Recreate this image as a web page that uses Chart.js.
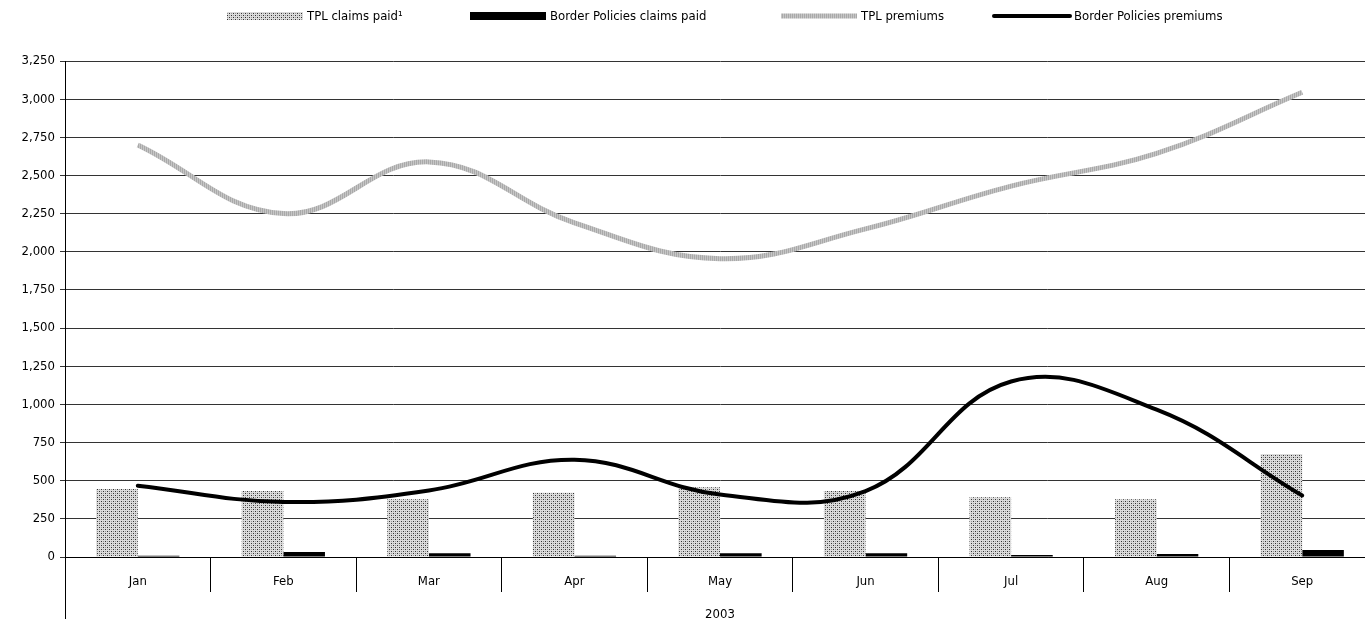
<!DOCTYPE html>
<html>
<head>
<meta charset="utf-8">
<script src="https://cdn.jsdelivr.net/npm/chart.js@4/dist/chart.umd.min.js"></script>
<style>
  html, body { margin: 0; padding: 0; overflow: hidden; background: #fff; }
  #wrap { position: absolute; left: 0; top: 0; width: 1380px; height: 619px; }
</style>
</head>
<body>
<div id="wrap"><canvas id="c" width="1380" height="619"></canvas></div>
<script>
// Monthly figures, 2003
const months = ['Jan', 'Feb', 'Mar', 'Apr', 'May', 'Jun', 'Jul', 'Aug', 'Sep'];
const yearLabels = ['2003'];
const tplClaimsPaid = [445, 432, 378, 421, 457, 432, 391, 378, 675];
const borderClaimsPaid = [8, 33, 24, 8, 24, 24, 13, 20, 46];
const tplPremiums = [2700, 2250, 2589, 2190, 1955, 2150, 2430, 2645, 3045];
const borderPremiums = [467, 361, 436, 637, 410, 432, 1150, 965, 403];
const seriesNames = ['TPL claims paid\u00b9', 'Border Policies claims paid', 'TPL premiums', 'Border Policies premiums'];
const yMax = 3250;
const yStep = 250;

const FONT = { family: '"DejaVu Sans Condensed", "DejaVu Sans", sans-serif', size: 13 };

// Dotted fill used for the TPL claims bars
function makeDotPattern() {
  const t = document.createElement('canvas');
  t.width = 4; t.height = 4;
  const g = t.getContext('2d');
  g.fillStyle = '#dcdcdc'; g.fillRect(0, 0, 4, 4);
  g.fillStyle = '#333';
  g.fillRect(1, 1, 1, 1);
  g.fillRect(3, 3, 1, 1);
  g.fillStyle = '#959595';
  g.fillRect(3, 1, 1, 1);
  g.fillRect(1, 3, 1, 1);
  return g.createPattern(t, 'repeat');
}

// Fine vertical hatching used for the TPL premiums line
function makeStripePattern() {
  const t = document.createElement('canvas');
  t.width = 2; t.height = 2;
  const g = t.getContext('2d');
  g.fillStyle = '#a9a9a9'; g.fillRect(0, 0, 1, 2);
  g.fillStyle = '#c6c6c6'; g.fillRect(1, 0, 1, 2);
  return g.createPattern(t, 'repeat');
}

const dotPattern = makeDotPattern();
const stripePattern = makeStripePattern();

// Legend row across the top, drawn from each dataset's own style
const legendLayout = { y: 16, swatchW: 76, gap: 4, x: [227, 470, 781, 994] };
const topLegend = {
  id: 'topLegend',
  afterDraw(chart) {
    const ctx = chart.ctx;
    chart.data.datasets.forEach((ds, i) => {
      const x = legendLayout.x[i];
      const y = legendLayout.y;
      const w = legendLayout.swatchW;
      ctx.save();
      if (ds.type === 'line') {
        ctx.strokeStyle = ds.borderColor;
        ctx.lineWidth = ds.borderWidth;
        ctx.lineCap = ds.borderCapStyle || 'butt';
        ctx.beginPath();
        ctx.moveTo(x, y);
        ctx.lineTo(x + w, y);
        ctx.stroke();
      } else {
        ctx.fillStyle = ds.backgroundColor;
        ctx.fillRect(x, y - 4, w, 8);
      }
      ctx.fillStyle = '#000';
      ctx.font = FONT.size + 'px ' + FONT.family;
      ctx.textBaseline = 'middle';
      ctx.textAlign = 'left';
      ctx.fillText(ds.label, x + w + legendLayout.gap, y + 1);
      ctx.restore();
    });
  }
};

new Chart(document.getElementById('c'), {
  data: {
    labels: months,
    datasets: [
      {
        type: 'bar', label: seriesNames[0], data: tplClaimsPaid,
        backgroundColor: dotPattern, borderWidth: 0,
        categoryPercentage: 0.572, barPercentage: 1.0, order: 2
      },
      {
        type: 'bar', label: seriesNames[1], data: borderClaimsPaid,
        backgroundColor: '#000', borderWidth: 0,
        categoryPercentage: 0.572, barPercentage: 1.0, order: 2
      },
      {
        type: 'line', label: seriesNames[2], data: tplPremiums,
        borderColor: stripePattern, borderWidth: 5, tension: 0.4,
        pointRadius: 0, fill: false, order: 1
      },
      {
        type: 'line', label: seriesNames[3], data: borderPremiums,
        borderColor: '#000', borderWidth: 4, borderCapStyle: 'round',
        borderJoinStyle: 'round', tension: 0.4,
        pointRadius: 0, fill: false, order: 0
      }
    ]
  },
  options: {
    responsive: false,
    animation: false,
    devicePixelRatio: 1,
    layout: { padding: { top: 61, right: 5, left: 0, bottom: 0 } },
    plugins: { legend: { display: false }, tooltip: { enabled: false } },
    scales: {
      x: {
        type: 'category',
        position: 'bottom',
        offset: true,
        grid: { offset: true, drawOnChartArea: false, tickLength: 35, color: '#000' },
        border: { color: '#000' },
        ticks: { padding: -18, font: FONT, color: '#000', maxRotation: 0, autoSkip: false },
        afterFit: s => { s.height = 35; }
      },
      x2: {
        type: 'category',
        labels: yearLabels,
        position: 'bottom',
        offset: true,
        grid: { offset: true, drawOnChartArea: false, tickLength: 27, color: '#000' },
        border: { display: false },
        ticks: { padding: -12, font: FONT, color: '#000', maxRotation: 0 },
        afterFit: s => { s.height = 27; }
      },
      y: {
        min: 0, max: yMax,
        ticks: { stepSize: yStep, padding: 5, font: FONT, color: '#000' },
        grid: { color: '#333', tickLength: 5 },
        border: { color: '#000' },
        afterFit: s => { s.width = 65; }
      }
    }
  },
  plugins: [topLegend]
});
</script>
</body>
</html>
